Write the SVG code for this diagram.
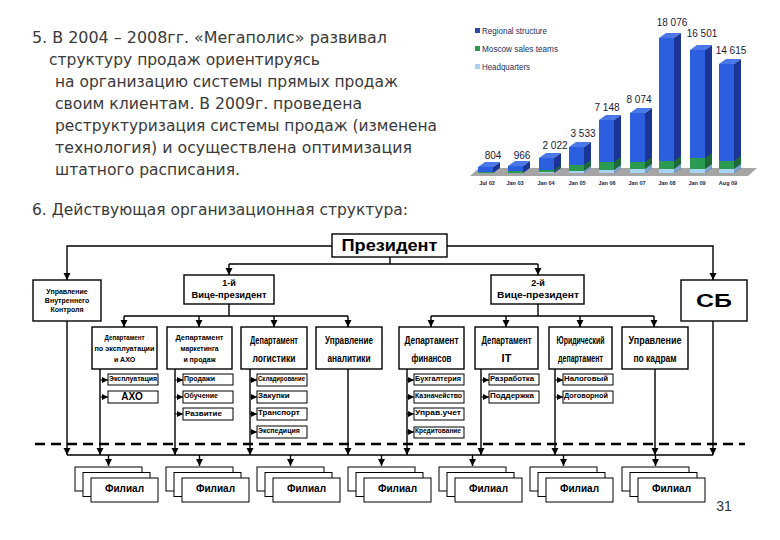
<svg xmlns="http://www.w3.org/2000/svg" width="780" height="540" viewBox="0 0 780 540">
<style>
.para{font-family:"DejaVu Sans","Liberation Sans",sans-serif;font-size:15px;fill:#3a3a3a}
.box{fill:#fff;stroke:#000;stroke-width:1.4}
.sub{fill:#fff;stroke:#000;stroke-width:1}
.b{font-family:"Liberation Sans",Arial,sans-serif;font-weight:bold;fill:#000}
.d{font-family:"Liberation Sans",Arial,sans-serif;font-weight:bold;fill:#000;font-size:11px;text-anchor:middle}
.c{stroke:#000;stroke-width:1.4;fill:none}
.ca{stroke:#000;stroke-width:1.4;fill:none;marker-end:url(#ah)}
.cs{stroke:#000;stroke-width:1;fill:none;marker-end:url(#as)}
.val{font-family:"Liberation Sans",Arial,sans-serif;font-size:10px;fill:#1a1a3a;text-anchor:middle}
.ax{font-family:"Liberation Sans",Arial,sans-serif;font-size:5.5px;font-weight:bold;fill:#1a2250;text-anchor:middle}
.lg{font-family:"Liberation Sans",Arial,sans-serif;font-size:9px;fill:#23305a}
.fr{fill:#2b5fe0}.sd{fill:#1b3596}.tp{fill:#4a78e8}
.gf{fill:#2a9a50}.gs{fill:#1d6a38}.lf{fill:#a8d4f2}.ls{fill:#7aa8cc}
</style>
<defs>
<marker id="ah" markerUnits="userSpaceOnUse" markerWidth="8" markerHeight="8" refX="7" refY="3.5" orient="auto"><path d="M0,0 L7,3.5 L0,7 z" fill="#000"/></marker>
<marker id="as" markerUnits="userSpaceOnUse" markerWidth="7" markerHeight="7" refX="6" refY="3" orient="auto"><path d="M0,0 L6,3 L0,6 z" fill="#000"/></marker>
</defs>
<rect width="780" height="540" fill="#fff"/>

<g id="text-block">
<text class="para" x="32" y="43" textLength="355" lengthAdjust="spacingAndGlyphs">5. В 2004 – 2008гг. «Мегаполис» развивал</text>
<text class="para" x="49" y="65" textLength="271" lengthAdjust="spacingAndGlyphs">структуру продаж ориентируясь</text>
<text class="para" x="55" y="87" textLength="343" lengthAdjust="spacingAndGlyphs">на организацию системы прямых продаж</text>
<text class="para" x="55" y="109" textLength="307" lengthAdjust="spacingAndGlyphs">своим клиентам. В 2009г. проведена</text>
<text class="para" x="55" y="131" textLength="382" lengthAdjust="spacingAndGlyphs">реструктуризация системы продаж (изменена</text>
<text class="para" x="55" y="153" textLength="357" lengthAdjust="spacingAndGlyphs">технология) и осуществлена оптимизация</text>
<text class="para" x="55" y="175" textLength="185" lengthAdjust="spacingAndGlyphs">штатного расписания.</text>
<text class="para" x="32" y="215" textLength="376" lengthAdjust="spacingAndGlyphs">6. Действующая организационная структура:</text>
</g>

<g id="chart">
<rect x="475" y="28" width="5" height="5" fill="#2b4aa0"/>
<text class="lg" x="482" y="34" textLength="65" lengthAdjust="spacingAndGlyphs">Regional structure</text>
<rect x="475" y="46" width="5" height="5" fill="#2a9a50"/>
<text class="lg" x="482" y="52" textLength="76" lengthAdjust="spacingAndGlyphs">Moscow sales teams</text>
<rect x="475" y="64" width="5" height="5" fill="#a8d4f2"/>
<text class="lg" x="482" y="70" textLength="48" lengthAdjust="spacingAndGlyphs">Headquarters</text>
<polygon points="470,176 748,176 757,168 479,168" fill="#a5a5a5"/>
<g><rect class="fr" x="478" y="167" width="15" height="6"/><polygon class="sd" points="493,173 500,168 500,162 493,167"/><polygon class="tp" points="478,167 493,167 500,162 485,162"/><rect class="gf" x="478" y="172" width="15" height="1"/></g>
<g><rect class="fr" x="508" y="166" width="15" height="7"/><polygon class="sd" points="523,173 530,168 530,161 523,166"/><polygon class="tp" points="508,166 523,166 530,161 515,161"/><rect class="gf" x="508" y="171" width="15" height="2"/></g>
<g><rect class="fr" x="539" y="158" width="15" height="15"/><polygon class="sd" points="554,173 561,168 561,153 554,158"/><polygon class="tp" points="539,158 554,158 561,153 546,153"/><rect class="gf" x="539" y="170" width="15" height="2"/><rect class="lf" x="539" y="172" width="15" height="1"/><polygon class="gs" points="554,172 561,167 561,165 554,170"/></g>
<g><rect class="fr" x="569" y="147" width="15" height="26"/><polygon class="sd" points="584,173 591,168 591,142 584,147"/><polygon class="tp" points="569,147 584,147 591,142 576,142"/><rect class="gf" x="569" y="165" width="15" height="6"/><rect class="lf" x="569" y="171" width="15" height="2"/><polygon class="gs" points="584,171 591,166 591,160 584,165"/><polygon class="ls" points="584,173 591,168 591,166 584,171"/></g>
<g><rect class="fr" x="599" y="120" width="15" height="53"/><polygon class="sd" points="614,173 621,168 621,115 614,120"/><polygon class="tp" points="599,120 614,120 621,115 606,115"/><rect class="gf" x="599" y="162" width="15" height="8"/><rect class="lf" x="599" y="170" width="15" height="3"/><polygon class="gs" points="614,170 621,165 621,157 614,162"/><polygon class="ls" points="614,173 621,168 621,165 614,170"/></g>
<g><rect class="fr" x="630" y="113" width="15" height="60"/><polygon class="sd" points="645,173 652,168 652,108 645,113"/><polygon class="tp" points="630,113 645,113 652,108 637,108"/><rect class="gf" x="630" y="162" width="15" height="7"/><rect class="lf" x="630" y="169" width="15" height="4"/><polygon class="gs" points="645,169 652,164 652,157 645,162"/><polygon class="ls" points="645,173 652,168 652,164 645,169"/></g>
<g><rect class="fr" x="659" y="38" width="15" height="135"/><polygon class="sd" points="674,173 681,168 681,33 674,38"/><polygon class="tp" points="659,38 674,38 681,33 666,33"/><rect class="gf" x="659" y="161" width="15" height="8"/><rect class="lf" x="659" y="169" width="15" height="4"/><polygon class="gs" points="674,169 681,164 681,156 674,161"/><polygon class="ls" points="674,173 681,168 681,164 674,169"/></g>
<g><rect class="fr" x="690" y="50" width="15" height="123"/><polygon class="sd" points="705,173 712,168 712,45 705,50"/><polygon class="tp" points="690,50 705,50 712,45 697,45"/><rect class="gf" x="690" y="158" width="15" height="11"/><rect class="lf" x="690" y="169" width="15" height="4"/><polygon class="gs" points="705,169 712,164 712,153 705,158"/><polygon class="ls" points="705,173 712,168 712,164 705,169"/></g>
<g><rect class="fr" x="719" y="64" width="15" height="109"/><polygon class="sd" points="734,173 741,168 741,59 734,64"/><polygon class="tp" points="719,64 734,64 741,59 726,59"/><rect class="gf" x="719" y="161" width="15" height="8"/><rect class="lf" x="719" y="169" width="15" height="4"/><polygon class="gs" points="734,169 741,164 741,156 734,161"/><polygon class="ls" points="734,173 741,168 741,164 734,169"/></g>
<text class="val" x="493" y="159">804</text>
<text class="val" x="522" y="159">966</text>
<text class="val" x="555" y="149">2 022</text>
<text class="val" x="583" y="137">3 533</text>
<text class="val" x="607" y="111">7 148</text>
<text class="val" x="639" y="103">8 074</text>
<text class="val" x="672" y="26">18 076</text>
<text class="val" x="702" y="37">16 501</text>
<text class="val" x="731" y="54">14 615</text>
<text class="ax" x="487" y="185">Jul 02</text>
<text class="ax" x="515" y="185">Jan 03</text>
<text class="ax" x="546" y="185">Jan 04</text>
<text class="ax" x="577" y="185">Jan 05</text>
<text class="ax" x="607" y="185">Jan 06</text>
<text class="ax" x="637" y="185">Jan 07</text>
<text class="ax" x="667" y="185">Jan 08</text>
<text class="ax" x="697" y="185">Jan 09</text>
<text class="ax" x="728" y="185">Aug 09</text>
</g>

<g id="connectors">
<polyline class="ca" points="332,246 67,246 67,280"/>
<polyline class="ca" points="447,246 713,246 713,280"/>
<line class="c" x1="390" y1="257" x2="390" y2="264"/>
<line class="c" x1="229" y1="264" x2="538" y2="264"/>
<line class="ca" x1="229" y1="264" x2="229" y2="275"/>
<line class="ca" x1="538" y1="264" x2="538" y2="275"/>
<line class="c" x1="229" y1="304" x2="229" y2="316"/>
<line class="c" x1="124" y1="316" x2="348" y2="316"/>
<line class="ca" x1="124" y1="316" x2="124" y2="327"/>
<line class="ca" x1="199" y1="316" x2="199" y2="327"/>
<line class="ca" x1="274" y1="316" x2="274" y2="327"/>
<line class="ca" x1="348" y1="316" x2="348" y2="327"/>
<line class="c" x1="538" y1="304" x2="538" y2="316"/>
<line class="c" x1="431" y1="316" x2="654" y2="316"/>
<line class="ca" x1="431" y1="316" x2="431" y2="327"/>
<line class="ca" x1="506" y1="316" x2="506" y2="327"/>
<line class="ca" x1="580" y1="316" x2="580" y2="327"/>
<line class="ca" x1="654" y1="316" x2="654" y2="327"/>
<line class="ca" x1="67" y1="321" x2="67" y2="455" stroke-width="2"/>
<line class="ca" x1="713" y1="321" x2="713" y2="455" stroke-width="2"/>
<line class="ca" x1="100" y1="369" x2="100" y2="455"/>
<line class="ca" x1="175" y1="369" x2="175" y2="455"/>
<line class="ca" x1="250" y1="369" x2="250" y2="455"/>
<line class="ca" x1="348" y1="369" x2="348" y2="455"/>
<line class="ca" x1="407" y1="369" x2="407" y2="455"/>
<line class="ca" x1="481" y1="369" x2="481" y2="455"/>
<line class="ca" x1="555" y1="369" x2="555" y2="455"/>
<line class="ca" x1="655" y1="369" x2="655" y2="455"/>
<line class="cs" x1="100" y1="380" x2="108" y2="380"/>
<line class="cs" x1="100" y1="397" x2="108" y2="397"/>
<line class="cs" x1="175" y1="380" x2="183" y2="380"/>
<line class="cs" x1="175" y1="397" x2="183" y2="397"/>
<line class="cs" x1="175" y1="414" x2="183" y2="414"/>
<line class="cs" x1="250" y1="380" x2="257" y2="380"/>
<line class="cs" x1="250" y1="397" x2="257" y2="397"/>
<line class="cs" x1="250" y1="414" x2="257" y2="414"/>
<line class="cs" x1="250" y1="432" x2="257" y2="432"/>
<line class="cs" x1="407" y1="380" x2="414" y2="380"/>
<line class="cs" x1="407" y1="397" x2="414" y2="397"/>
<line class="cs" x1="407" y1="414" x2="414" y2="414"/>
<line class="cs" x1="407" y1="432" x2="414" y2="432"/>
<line class="cs" x1="481" y1="380" x2="489" y2="380"/>
<line class="cs" x1="481" y1="397" x2="489" y2="397"/>
<line class="cs" x1="555" y1="380" x2="563" y2="380"/>
<line class="cs" x1="555" y1="397" x2="563" y2="397"/>
<line x1="35" y1="444" x2="745" y2="444" stroke="#000" stroke-width="2.5" stroke-dasharray="10 6"/>
<line class="c" x1="67" y1="455" x2="713" y2="455"/>
<line class="ca" x1="108.5" y1="455" x2="108.5" y2="466"/>
<line class="ca" x1="199.5" y1="455" x2="199.5" y2="466"/>
<line class="ca" x1="290.5" y1="455" x2="290.5" y2="466"/>
<line class="ca" x1="381.5" y1="455" x2="381.5" y2="466"/>
<line class="ca" x1="472.5" y1="455" x2="472.5" y2="466"/>
<line class="ca" x1="563.5" y1="455" x2="563.5" y2="466"/>
<line class="ca" x1="655.5" y1="455" x2="655.5" y2="466"/>
</g>

<g id="president"><rect class="box" x="332" y="234" width="115" height="23"/><text class="b" x="389.5" y="251" font-size="16" text-anchor="middle" textLength="96" lengthAdjust="spacingAndGlyphs">Президент</text></g>
<g id="control"><rect class="box" x="33" y="280" width="68" height="41"/>
<text class="b" font-size="7" text-anchor="middle" x="67" y="294">Управление</text>
<text class="b" font-size="7" text-anchor="middle" x="67" y="303">Внутреннего</text>
<text class="b" font-size="7" text-anchor="middle" x="67" y="312">Контроля</text></g>
<g id="sb"><rect class="box" x="681" y="280" width="66" height="41"/><text class="b" x="714" y="307" font-size="19" text-anchor="middle" textLength="36" lengthAdjust="spacingAndGlyphs">СБ</text></g>
<g id="vp1"><rect class="box" x="184" y="275" width="90" height="29"/>
<text class="b" font-size="9" text-anchor="middle" x="229" y="286">1-й</text>
<text class="b" font-size="9" text-anchor="middle" x="229" y="298" textLength="75" lengthAdjust="spacingAndGlyphs">Вице-президент</text></g>
<g id="vp2"><rect class="box" x="491" y="275" width="93" height="29"/>
<text class="b" font-size="9" text-anchor="middle" x="538" y="286">2-й</text>
<text class="b" font-size="9" text-anchor="middle" x="538" y="298" textLength="82" lengthAdjust="spacingAndGlyphs">Вице-президент</text></g>

<g id="dept-aho"><rect class="box" x="92" y="327" width="65" height="42"/>
<text class="b" font-size="7" text-anchor="middle" x="124.5" y="340" textLength="40" lengthAdjust="spacingAndGlyphs">Департамент</text>
<text class="b" font-size="7" text-anchor="middle" x="124.5" y="351" textLength="60" lengthAdjust="spacingAndGlyphs">по эксплуатации</text>
<text class="b" font-size="7" text-anchor="middle" x="124.5" y="362">и АХО</text></g>
<g id="dept-mkt"><rect class="box" x="167" y="327" width="65" height="42"/>
<text class="b" font-size="7" text-anchor="middle" x="199.5" y="340" textLength="48" lengthAdjust="spacingAndGlyphs">Департамент</text>
<text class="b" font-size="7" text-anchor="middle" x="199.5" y="351" textLength="38" lengthAdjust="spacingAndGlyphs">маркетинга</text>
<text class="b" font-size="7" text-anchor="middle" x="199.5" y="362">и продаж</text></g>
<g id="dept-log"><rect class="box" x="241" y="327" width="66" height="42"/>
<text class="d" x="274" y="344" textLength="48" lengthAdjust="spacingAndGlyphs">Департамент</text>
<text class="d" x="274" y="362" textLength="43" lengthAdjust="spacingAndGlyphs">логистики</text></g>
<g id="dept-anl"><rect class="box" x="316" y="327" width="66" height="42"/>
<text class="d" x="349" y="344" textLength="48" lengthAdjust="spacingAndGlyphs">Управление</text>
<text class="d" x="349" y="362" textLength="43" lengthAdjust="spacingAndGlyphs">аналитики</text></g>
<g id="dept-fin"><rect class="box" x="399" y="327" width="65" height="42"/>
<text class="d" x="431.5" y="344" textLength="54" lengthAdjust="spacingAndGlyphs">Департамент</text>
<text class="d" x="431.5" y="362" textLength="40" lengthAdjust="spacingAndGlyphs">финансов</text></g>
<g id="dept-it"><rect class="box" x="475" y="327" width="63" height="42"/>
<text class="d" x="506.5" y="344" textLength="50" lengthAdjust="spacingAndGlyphs">Департамент</text>
<text class="d" x="506.5" y="362">IT</text></g>
<g id="dept-law"><rect class="box" x="549" y="327" width="63" height="42"/>
<text class="d" x="580.5" y="344" textLength="48" lengthAdjust="spacingAndGlyphs">Юридический</text>
<text class="d" x="580.5" y="362" textLength="45" lengthAdjust="spacingAndGlyphs">департамент</text></g>
<g id="dept-hr"><rect class="box" x="622" y="327" width="66" height="42"/>
<text class="d" x="655" y="344" textLength="53" lengthAdjust="spacingAndGlyphs">Управление</text>
<text class="d" x="655" y="362" textLength="43" lengthAdjust="spacingAndGlyphs">по кадрам</text></g>

<g id="subs" font-family="Liberation Sans, Arial, sans-serif" font-weight="bold" font-size="7">
<g id="s-expl"><rect class="sub" x="108" y="374" width="50" height="11"/><text x="109" y="381" textLength="48" lengthAdjust="spacingAndGlyphs">Эксплуатация</text></g>
<g id="s-aho"><rect class="sub" x="108" y="391" width="50" height="12"/><text x="132" y="399.5" font-size="10" text-anchor="middle">АХО</text></g>
<g id="s-sales"><rect class="sub" x="183" y="374" width="50" height="11"/><text x="184" y="381">Продажи</text></g>
<g id="s-train"><rect class="sub" x="183" y="391" width="50" height="12"/><text x="184" y="398">Обучение</text></g>
<g id="s-dev"><rect class="sub" x="183" y="408" width="50" height="12"/><text x="185" y="416" font-size="8">Развитие</text></g>
<g id="s-store"><rect class="sub" x="257" y="374" width="50" height="12"/><text x="258" y="381" textLength="47" lengthAdjust="spacingAndGlyphs">Складирование</text></g>
<g id="s-buy"><rect class="sub" x="257" y="391" width="50" height="12"/><text x="258" y="398" font-size="8">Закупки</text></g>
<g id="s-trans"><rect class="sub" x="257" y="408" width="50" height="12"/><text x="258" y="415" font-size="8">Транспорт</text></g>
<g id="s-exp"><rect class="sub" x="257" y="426" width="50" height="12"/><text x="258" y="433">Экспедиция</text></g>
<g id="s-acc"><rect class="sub" x="414" y="374" width="50" height="11"/><text x="415" y="381" textLength="46" lengthAdjust="spacingAndGlyphs">Бухгалтерия</text></g>
<g id="s-treas"><rect class="sub" x="414" y="391" width="50" height="12"/><text x="415" y="398" textLength="47" lengthAdjust="spacingAndGlyphs">Казначейство</text></g>
<g id="s-mgmt"><rect class="sub" x="414" y="408" width="50" height="12"/><text x="415" y="415" textLength="46" lengthAdjust="spacingAndGlyphs">Управ.учет</text></g>
<g id="s-cred"><rect class="sub" x="414" y="427" width="50" height="11"/><text x="415" y="433" textLength="46" lengthAdjust="spacingAndGlyphs">Кредитование</text></g>
<g id="s-dev2"><rect class="sub" x="489" y="374" width="50" height="11"/><text x="490" y="381" textLength="44" lengthAdjust="spacingAndGlyphs">Разработка</text></g>
<g id="s-supp"><rect class="sub" x="489" y="391" width="50" height="12"/><text x="490" y="398" textLength="44" lengthAdjust="spacingAndGlyphs">Поддержка</text></g>
<g id="s-law1"><rect class="sub" x="563" y="374" width="50" height="11"/><text x="564" y="381" textLength="44" lengthAdjust="spacingAndGlyphs">Налоговый</text></g>
<g id="s-law2"><rect class="sub" x="563" y="391" width="50" height="12"/><text x="564" y="398" textLength="44" lengthAdjust="spacingAndGlyphs">Договорной</text></g>
</g>

<g id="branches">
<g id="f1"><rect class="sub" x="75" y="467" width="67" height="24"/><rect class="sub" x="83" y="472.5" width="67" height="24"/><rect class="sub" x="91" y="478" width="67" height="24"/><text class="b" x="124.5" y="492" font-size="10" text-anchor="middle">Филиал</text></g>
<g id="f2"><rect class="sub" x="166" y="467" width="67" height="24"/><rect class="sub" x="174" y="472.5" width="67" height="24"/><rect class="sub" x="182" y="478" width="67" height="24"/><text class="b" x="215.5" y="492" font-size="10" text-anchor="middle">Филиал</text></g>
<g id="f3"><rect class="sub" x="257" y="467" width="67" height="24"/><rect class="sub" x="265" y="472.5" width="67" height="24"/><rect class="sub" x="273" y="478" width="67" height="24"/><text class="b" x="306.5" y="492" font-size="10" text-anchor="middle">Филиал</text></g>
<g id="f4"><rect class="sub" x="348" y="467" width="67" height="24"/><rect class="sub" x="356" y="472.5" width="67" height="24"/><rect class="sub" x="364" y="478" width="67" height="24"/><text class="b" x="397.5" y="492" font-size="10" text-anchor="middle">Филиал</text></g>
<g id="f5"><rect class="sub" x="439" y="467" width="67" height="24"/><rect class="sub" x="447" y="472.5" width="67" height="24"/><rect class="sub" x="455" y="478" width="67" height="24"/><text class="b" x="488.5" y="492" font-size="10" text-anchor="middle">Филиал</text></g>
<g id="f6"><rect class="sub" x="530" y="467" width="67" height="24"/><rect class="sub" x="538" y="472.5" width="67" height="24"/><rect class="sub" x="546" y="478" width="67" height="24"/><text class="b" x="579.5" y="492" font-size="10" text-anchor="middle">Филиал</text></g>
<g id="f7"><rect class="sub" x="622" y="467" width="67" height="24"/><rect class="sub" x="630" y="472.5" width="67" height="24"/><rect class="sub" x="638" y="478" width="67" height="24"/><text class="b" x="671.5" y="492" font-size="10" text-anchor="middle">Филиал</text></g>
</g>
<text x="724" y="511" font-family="Liberation Sans, Arial, sans-serif" font-size="14" fill="#333" text-anchor="middle">31</text>
</svg>
